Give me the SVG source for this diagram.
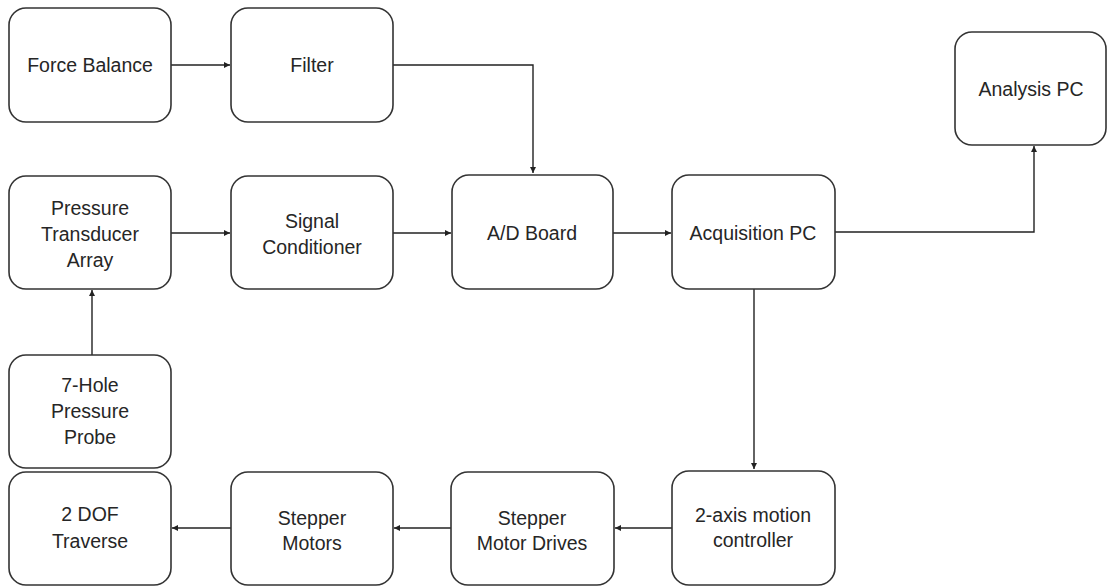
<svg xmlns="http://www.w3.org/2000/svg" width="1108" height="587" viewBox="0 0 1108 587">
<style>
.box{fill:#fff;stroke:#333;stroke-width:1.6}
.t{font-family:"Liberation Sans",Arial,sans-serif;font-size:19.5px;fill:#262626;text-anchor:middle}
.c{fill:none;stroke:#222;stroke-width:1.4}
</style>
<defs>
<marker id="ah" markerWidth="8" markerHeight="8" refX="6" refY="3" orient="auto" markerUnits="userSpaceOnUse">
<path d="M0,0 L6,3 L0,6 z" fill="#222"/>
</marker>
</defs>
<rect width="1108" height="587" fill="#fff"/>
<g id="connectors">
<path class="c" d="M171,65 H230" marker-end="url(#ah)"/>
<path class="c" d="M393,65 H533 V173" marker-end="url(#ah)"/>
<path class="c" d="M171,233 H230" marker-end="url(#ah)"/>
<path class="c" d="M393,233 H451" marker-end="url(#ah)"/>
<path class="c" d="M613,233 H671" marker-end="url(#ah)"/>
<path class="c" d="M835,232 H1034 V146" marker-end="url(#ah)"/>
<path class="c" d="M92,355 V290" marker-end="url(#ah)"/>
<path class="c" d="M754,289 V469" marker-end="url(#ah)"/>
<path class="c" d="M672,528 H615" marker-end="url(#ah)"/>
<path class="c" d="M451,528 H394" marker-end="url(#ah)"/>
<path class="c" d="M231,528 H172" marker-end="url(#ah)"/>
</g>
<g id="force-balance"><rect class="box" x="9" y="8" width="162" height="114" rx="17"/><text class="t" x="90" y="72">Force Balance</text></g>
<g id="filter"><rect class="box" x="231" y="8" width="162" height="114" rx="17"/><text class="t" x="312" y="72">Filter</text></g>
<g id="analysis-pc"><rect class="box" x="955" y="32" width="151" height="113" rx="17"/><text class="t" x="1031" y="96">Analysis PC</text></g>
<g id="pressure-transducer-array"><rect class="box" x="9" y="176" width="162" height="113" rx="17"/><text class="t" x="90" y="215">Pressure</text><text class="t" x="90" y="241">Transducer</text><text class="t" x="90" y="267">Array</text></g>
<g id="signal-conditioner"><rect class="box" x="231" y="176" width="162" height="113" rx="17"/><text class="t" x="312" y="228">Signal</text><text class="t" x="312" y="254">Conditioner</text></g>
<g id="ad-board"><rect class="box" x="452" y="175" width="161" height="114" rx="17"/><text class="t" x="532" y="240">A/D Board</text></g>
<g id="acquisition-pc"><rect class="box" x="672" y="175" width="163" height="114" rx="17"/><text class="t" x="753" y="240">Acquisition PC</text></g>
<g id="seven-hole-probe"><rect class="box" x="9" y="355" width="162" height="113" rx="17"/><text class="t" x="90" y="392">7-Hole</text><text class="t" x="90" y="418">Pressure</text><text class="t" x="90" y="444">Probe</text></g>
<g id="two-dof-traverse"><rect class="box" x="9" y="472" width="162" height="113" rx="17"/><text class="t" x="90" y="521">2 DOF</text><text class="t" x="90" y="548">Traverse</text></g>
<g id="stepper-motors"><rect class="box" x="231" y="472" width="162" height="113" rx="17"/><text class="t" x="312" y="525">Stepper</text><text class="t" x="312" y="550">Motors</text></g>
<g id="stepper-motor-drives"><rect class="box" x="451" y="472" width="163" height="113" rx="17"/><text class="t" x="532" y="525">Stepper</text><text class="t" x="532" y="550">Motor Drives</text></g>
<g id="motion-controller"><rect class="box" x="672" y="471" width="163" height="114" rx="17"/><text class="t" x="753" y="522">2-axis motion</text><text class="t" x="753" y="547">controller</text></g>
</svg>
